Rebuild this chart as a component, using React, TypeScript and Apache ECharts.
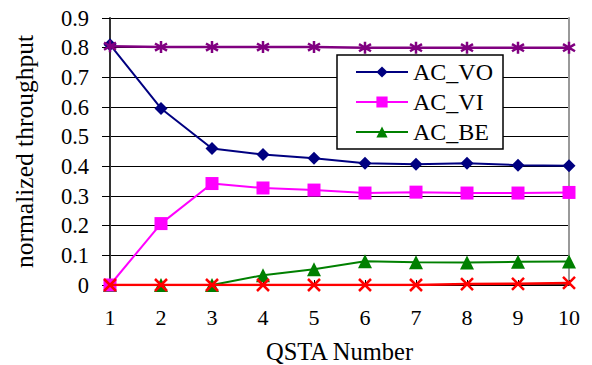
import React, { useEffect, useRef } from "react";
import * as echarts from "echarts";

const xs = [1, 2, 3, 4, 5, 6, 7, 8, 9, 10];
const acVO = [0.81, 0.595, 0.46, 0.44, 0.427, 0.41, 0.407, 0.41, 0.404, 0.402];
const acVI = [0, 0.207, 0.342, 0.327, 0.32, 0.31, 0.313, 0.31, 0.31, 0.312];
const acBE = [0, 0, 0, 0.033, 0.053, 0.08, 0.077, 0.076, 0.078, 0.079];
const redSeries = [0, 0, 0, 0, 0, 0, 0, 0.003, 0.004, 0.007];
const purpleSeries = [0.805, 0.802, 0.802, 0.802, 0.802, 0.8, 0.8, 0.8, 0.8, 0.8];

const pair = (v: number[]) => v.map((y, i) => [xs[i], y]);
const FONT = "Liberation Serif";

export default function App() {
  const ref = useRef<HTMLDivElement>(null);
  useEffect(() => {
    const chart = echarts.init(ref.current!, null, { renderer: "svg" });
    chart.setOption({
      animation: false,
      backgroundColor: "#fff",
      textStyle: { fontFamily: FONT },
      grid: { left: 110, right: 23, top: 18, bottom: 80, outerBoundsMode: "none", containLabel: false },
      legend: {
        data: ["AC_VO", "AC_VI", "AC_BE"],
        orient: "vertical",
        left: 337,
        top: 55,
        width: 175,
        padding: [5, 10, 5, 18],
        itemGap: 6,
        itemWidth: 52,
        itemHeight: 14,
        backgroundColor: "#fff",
        borderColor: "#000",
        borderWidth: 1.5,
        textStyle: { fontFamily: FONT, fontSize: 24, color: "#000" },
      },
      xAxis: {
        type: "value",
        min: 1,
        max: 10,
        interval: 1,
        name: "QSTA Number",
        nameLocation: "middle",
        nameGap: 54,
        nameTextStyle: { fontFamily: FONT, fontSize: 24.5, color: "#000" },
        axisLine: { show: true, onZero: false, lineStyle: { color: "#000", width: 1.5 } },
        axisTick: { show: true, inside: true, length: 5, lineStyle: { color: "#000" } },
        axisLabel: { fontFamily: FONT, fontSize: 22, color: "#000", margin: 21 },
        splitLine: { show: false },
      },
      yAxis: [
        {
          type: "value",
          min: 0,
          max: 0.9,
          interval: 0.1,
          name: "normalized throughput",
          nameLocation: "middle",
          nameGap: 73,
          nameTextStyle: { fontFamily: FONT, fontSize: 25.5, color: "#000" },
          axisLine: { show: true, lineStyle: { color: "#333", width: 2 } },
          axisTick: { show: true, length: 8, lineStyle: { color: "#000" } },
          axisLabel: {
            fontFamily: FONT,
            fontSize: 22.5,
            color: "#000",
            margin: 21,
            formatter: (v: number) => (v === 0 ? "0" : v.toFixed(1)),
          },
          splitLine: { show: true, lineStyle: { color: "#000", width: 1 } },
        },
        {
          type: "value",
          min: 0,
          max: 0.9,
          interval: 0.1,
          position: "right",
          axisLine: { show: true, lineStyle: { color: "#999", width: 2 } },
          axisTick: { show: false },
          axisLabel: { show: false },
          splitLine: { show: false },
        },
      ],
      series: [
        {
          name: "AC_VO",
          type: "line",
          data: pair(acVO),
          symbol: "diamond",
          symbolSize: 13,
          color: "#000080",
          lineStyle: { color: "#000080", width: 2 },
          z: 5,
        },
        {
          name: "AC_VI",
          type: "line",
          data: pair(acVI),
          symbol: "rect",
          symbolSize: 13,
          color: "#ff00ff",
          lineStyle: { color: "#ff00ff", width: 2 },
          z: 4,
        },
        {
          name: "AC_BE",
          type: "line",
          data: pair(acBE),
          symbol: "triangle",
          symbolSize: 14,
          color: "#008000",
          lineStyle: { color: "#008000", width: 2 },
          z: 3,
        },
        {
          name: "red",
          type: "line",
          data: pair(redSeries),
          symbol: "path://M0,0L10,10M10,0L0,10",
          symbolSize: 12,
          itemStyle: { color: "none", borderColor: "#ff0000", borderWidth: 2.5 },
          lineStyle: { color: "#ff0000", width: 2.5 },
          z: 6,
        },
        {
          name: "purple",
          type: "line",
          data: pair(purpleSeries),
          symbol: "path://M5,0L5,10M0,2L10,8M0,8L10,2",
          symbolSize: 12,
          itemStyle: { color: "none", borderColor: "#800080", borderWidth: 2.5 },
          lineStyle: { color: "#800080", width: 2.5 },
          z: 6,
        },
      ],
    });
    return () => chart.dispose();
  }, []);
  return (
    <div
      ref={ref}
      style={{ position: "absolute", left: 0, top: 0, width: 592, height: 365 }}
    />
  );
}
